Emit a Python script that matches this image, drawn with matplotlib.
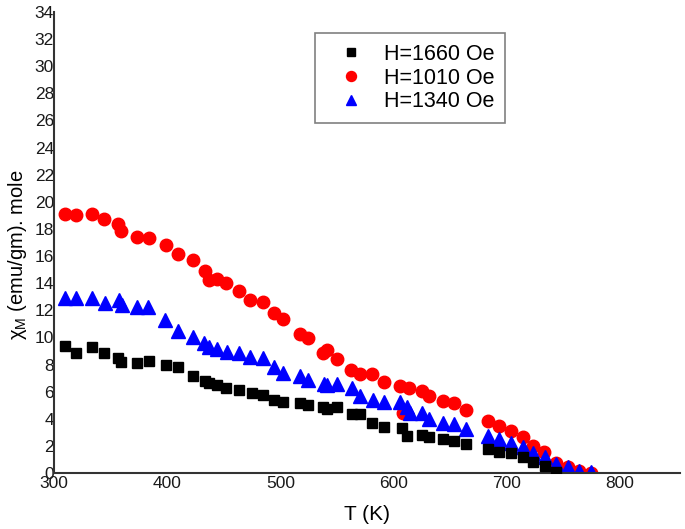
import numpy as np
import matplotlib
matplotlib.use("Agg")
import matplotlib.pyplot as plt

plt.rcParams['font.family'] = ['Liberation Sans', 'DejaVu Sans']
plt.rcParams['mathtext.fontset'] = 'custom'
plt.rcParams['mathtext.rm'] = 'Liberation Sans'
plt.rcParams['mathtext.it'] = 'Liberation Sans:italic'

# H = 1660 Oe (black squares)
T_1660 = [309.7, 319.4, 333.6, 344.2, 356.5, 359.2, 373.3, 383.9, 398.9, 409.5,
          422.8, 433.4, 436.9, 444.0, 451.9, 463.4, 474.9, 484.6, 494.3, 502.3,
          517.3, 524.4, 537.6, 541.2, 550.0, 563.3, 570.3, 580.9, 591.5, 607.4,
          611.8, 625.1, 631.3, 643.6, 653.4, 664.0, 683.4, 693.1, 703.7, 714.3,
          723.1, 733.7, 743.5]
chi_1660 = [9.37, 8.85, 9.29, 8.85, 8.48, 8.19, 8.11, 8.26, 7.96, 7.82,
            7.15, 6.78, 6.64, 6.49, 6.27, 6.12, 5.90, 5.75, 5.38, 5.24,
            5.16, 5.01, 4.87, 4.72, 4.87, 4.35, 4.35, 3.69, 3.39, 3.32,
            2.73, 2.80, 2.65, 2.51, 2.36, 2.14, 1.77, 1.55, 1.47, 1.18,
            0.81, 0.52, 0.07]

# H = 1010 Oe (red circles)
T_1010 = [309.7, 319.4, 333.6, 344.2, 356.5, 359.2, 373.3, 383.9, 398.9, 409.5,
          422.8, 433.4, 436.9, 444.0, 451.9, 463.4, 473.1, 484.6, 494.3, 502.3,
          517.3, 524.4, 537.6, 541.2, 550.0, 562.4, 570.3, 580.9, 591.5, 605.7,
          608.3, 613.6, 625.1, 631.3, 643.6, 653.4, 664.0, 683.4, 693.1, 703.7,
          714.3, 723.1, 732.9, 743.5, 754.1, 763.8, 774.4]
chi_1010 = [19.10, 19.03, 19.10, 18.73, 18.36, 17.85, 17.40, 17.33, 16.81, 16.15,
            15.71, 14.90, 14.23, 14.31, 14.01, 13.42, 12.76, 12.61, 11.80, 11.36,
            10.25, 9.96, 8.85, 9.07, 8.41, 7.60, 7.30, 7.30, 6.71, 6.42,
            4.42, 6.27, 6.05, 5.68, 5.31, 5.16, 4.65, 3.83, 3.47, 3.10,
            2.65, 1.99, 1.55, 0.74, 0.44, 0.15, 0.0]

# H = 1340 Oe (blue triangles)
T_1340 = [309.7, 319.4, 333.6, 345.1, 357.4, 360.1, 373.3, 383.0, 398.1, 409.5,
          422.8, 432.5, 436.9, 444.0, 452.8, 463.4, 473.1, 484.6, 494.3, 502.3,
          517.3, 524.4, 538.5, 541.2, 550.0, 563.3, 570.3, 581.8, 591.5, 605.7,
          611.8, 614.5, 625.1, 631.3, 643.6, 653.4, 664.0, 683.4, 693.1, 703.7,
          714.3, 723.1, 733.7, 743.5, 754.1, 763.8, 774.4]
chi_1340 = [12.91, 12.91, 12.91, 12.54, 12.76, 12.39, 12.24, 12.24, 11.28, 10.47,
            10.03, 9.59, 9.29, 9.14, 8.92, 8.85, 8.55, 8.48, 7.82, 7.37,
            7.15, 6.86, 6.56, 6.49, 6.56, 6.27, 5.68, 5.38, 5.24, 5.24,
            4.87, 4.42, 4.42, 3.98, 3.69, 3.61, 3.24, 2.73, 2.51, 2.21,
            1.92, 1.47, 1.18, 0.66, 0.44, 0.15, 0.07]

x_ticks = [300, 400, 500, 600, 700, 800]
y_ticks = list(range(0, 35, 2))

fig = plt.figure(figsize=(6.85, 5.29), dpi=100)
ax = fig.add_axes([54 / 685, 56 / 529, 626 / 685, 461 / 529])

ax.plot(T_1660, chi_1660, 's', color='black', markersize=7.5, label='H=1660 Oe', zorder=3)
ax.plot(T_1010, chi_1010, 'o', color='#ff0000', markersize=9, label='H=1010 Oe', zorder=2)
ax.plot(T_1340, chi_1340, '^', color='#0000ff', markersize=9.5, label='H=1340 Oe', zorder=2.5)

ax.set_xlim(300, 853)
ax.set_ylim(0, 34)
ax.set_xticks(x_ticks)
ax.set_yticks(y_ticks)
ax.tick_params(axis='both', length=0, labelsize=12.5, colors='#1a1a1a')
ax.tick_params(axis='x', pad=2)
ax.tick_params(axis='y', pad=0)

for side in ['top', 'right']:
    ax.spines[side].set_visible(False)
for side in ['left', 'bottom']:
    ax.spines[side].set_color('#333333')
    ax.spines[side].set_linewidth(1.5)

ax.set_xlabel('T (K)', fontsize=15, labelpad=10)
ax.set_ylabel(r'χ$_{\rm M}$ (emu/gm). mole', fontsize=14.5)
ax.yaxis.set_label_coords(-0.04, 0.473)

leg = ax.legend(loc='upper left', bbox_to_anchor=(0.417, 0.954), fontsize=15.5,
                markerscale=0.8, fancybox=False, edgecolor='#808080',
                framealpha=1, handlelength=2.3, handletextpad=0.4,
                borderpad=0.5, labelspacing=0.12, borderaxespad=0)
leg.get_frame().set_linewidth(1.2)

fig.savefig('out.png', dpi=100)
